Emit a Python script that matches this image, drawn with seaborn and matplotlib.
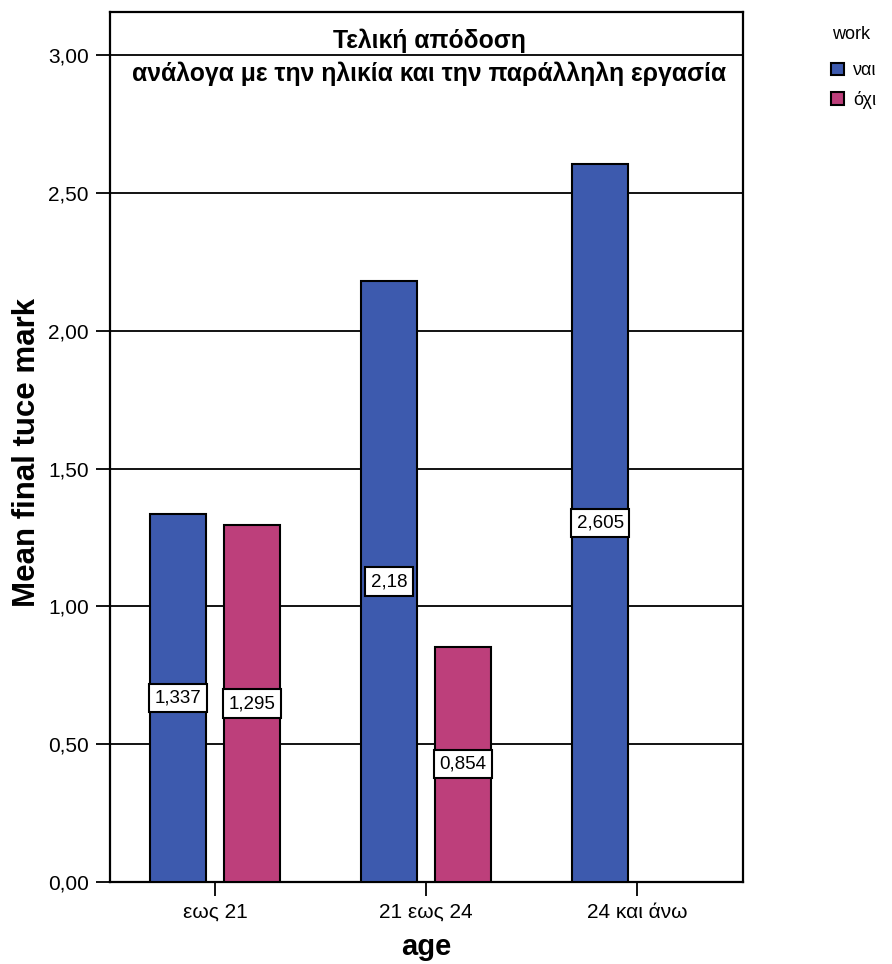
import matplotlib
matplotlib.use("Agg")
import matplotlib.pyplot as plt
from matplotlib.patches import Patch
from matplotlib.ticker import FuncFormatter
import pandas as pd
import seaborn as sns

# Mean final TUCE mark per age group and work status
age_groups = ["εως 21", "21 εως 24", "24 και άνω"]
work_levels = ["ναι", "όχι"]
age_col = ["εως 21", "εως 21", "21 εως 24", "21 εως 24", "24 και άνω"]
work_col = ["ναι", "όχι", "ναι", "όχι", "ναι"]
mean_mark = [1.337, 1.295, 2.18, 0.854, 2.605]
mark_labels = ["1,337", "1,295", "2,18", "0,854", "2,605"]
y_ticks = [0.0, 0.5, 1.0, 1.5, 2.0, 2.5, 3.0]

colors = {"ναι": "#3D5AAE", "όχι": "#BD3F7B"}

df = pd.DataFrame({"age": age_col, "work": work_col, "mark": mean_mark})

sns.set_theme(style="ticks")
plt.rcParams["font.family"] = ["Liberation Sans", "DejaVu Sans"]
plt.rcParams["text.color"] = "black"
plt.rcParams["axes.labelcolor"] = "black"
plt.rcParams["xtick.color"] = "black"
plt.rcParams["ytick.color"] = "black"

fig = plt.figure(figsize=(8.92, 9.64), dpi=100)
ax = fig.add_axes([0.1228, 0.0851, 0.7096, 0.9025])

sns.barplot(data=df, x="age", y="mark", hue="work", order=age_groups,
            hue_order=work_levels, palette=colors, saturation=1,
            errorbar=None, width=0.7, gap=0.24, edgecolor="black",
            linewidth=1.5, legend=False, ax=ax, zorder=3)

ax.set_xlim(-0.5, 2.5)
ax.set_ylim(0, 3.157)
ax.set_yticks(y_ticks)
ax.yaxis.set_major_formatter(FuncFormatter(lambda v, p: f"{v:.2f}".replace(".", ",")))
ax.yaxis.grid(True, color="black", linewidth=1.3)
ax.set_axisbelow(True)

for s in ax.spines.values():
    s.set_visible(True)
    s.set_linewidth(1.6)
    s.set_color("black")

ax.tick_params(axis="y", length=10, width=1.3, labelsize=15, pad=5)
ax.tick_params(axis="x", length=10, width=1.3, labelsize=15, pad=5)

ax.set_xlabel("age", fontsize=21, fontweight="bold", labelpad=8)
ax.set_ylabel("Mean final tuce mark", fontsize=22.5, fontweight="bold")
ax.yaxis.set_label_coords(-0.107, 0.494)

# Value labels in white boxes at half bar height
bars = [p for p in ax.patches if p.get_height() > 0]
bars = sorted(bars, key=lambda p: p.get_x())
for bar, lab in zip(bars, mark_labels):
    cx = bar.get_x() + bar.get_width() / 2
    ax.text(cx, bar.get_height() / 2, lab, ha="center", va="center",
            fontsize=13.5, zorder=5,
            bbox=dict(boxstyle="square,pad=0.3", fc="white", ec="black", lw=1.5))

# Title inside the plotting area
ax.text(0.505, 0.9665, "Τελική απόδοση", transform=ax.transAxes, ha="center",
        va="center", fontsize=17.8, fontweight="bold", zorder=6)
ax.text(0.505, 0.929, "ανάλογα με την ηλικία και την παράλληλη εργασία",
        transform=ax.transAxes, ha="center", va="center", fontsize=17.8,
        fontweight="bold", zorder=6)

# Legend for work status, with its heading placed above the entries
fig.text(0.9327, 0.9637, "work", ha="left", va="center", fontsize=13)
handles = [Patch(facecolor=colors[w], edgecolor="black", linewidth=1.5, label=w)
           for w in work_levels]
leg = fig.legend(handles=handles, loc="upper left",
                 bbox_to_anchor=(0.924, 0.943), frameon=False, fontsize=13,
                 handlelength=0.7, handleheight=0.7, handletextpad=0.5,
                 labelspacing=0.65, borderaxespad=0)

fig.savefig("out.png", dpi=100)
